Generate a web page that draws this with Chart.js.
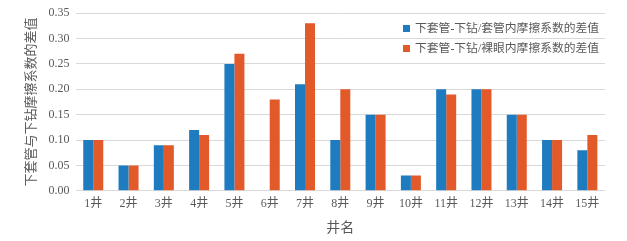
<!DOCTYPE html>
<html><head><meta charset="utf-8">
<script src="https://cdn.jsdelivr.net/npm/chart.js@4.4.1/dist/chart.umd.min.js"></script>
<style>
html,body{margin:0;padding:0;background:#fff;}
#wrap{position:relative;width:627px;height:241px;}
#legend{position:absolute;left:403px;top:18px;font-family:"Liberation Serif","Noto Sans CJK SC",serif;font-size:11.8px;color:#595959;line-height:20px;}
#legend .it{display:flex;align-items:center;white-space:nowrap;}
#legend .sw{width:7px;height:7px;margin-right:5px;display:inline-block;}
</style></head>
<body><div id="wrap"><canvas id="c" width="627" height="241"></canvas>
<div id="legend"></div></div>
<script>
const categories=["1井","2井","3井","4井","5井","6井","7井","8井","9井","10井","11井","12井","13井","14井","15井"];
const seriesNames=["下套管-下钻/套管内摩擦系数的差值","下套管-下钻/裸眼内摩擦系数的差值"];
const casingDiff=[0.10,0.05,0.09,0.12,0.25,0,0.21,0.10,0.15,0.03,0.20,0.20,0.15,0.10,0.08];
const openHoleDiff=[0.10,0.05,0.09,0.11,0.27,0.18,0.33,0.20,0.15,0.03,0.19,0.20,0.15,0.10,0.11];
const yTicks=[0,0.05,0.10,0.15,0.20,0.25,0.30,0.35];
const colors=["#1f7bbf","#e25a2a"];
const font={family:'"Liberation Serif","Noto Sans CJK SC",serif',size:12};
new Chart(document.getElementById('c'),{
 type:'bar',
 data:{labels:categories,datasets:[
  {label:seriesNames[0],data:casingDiff,backgroundColor:colors[0]},
  {label:seriesNames[1],data:openHoleDiff,backgroundColor:colors[1]}]},
 options:{responsive:false,animation:false,
  layout:{padding:{left:20,right:22,top:9,bottom:0}},
  datasets:{bar:{categoryPercentage:0.567,barPercentage:1}},
  plugins:{legend:{display:false},tooltip:{enabled:false}},
  scales:{
   x:{grid:{display:false,drawTicks:false},border:{display:false},
      ticks:{color:'#595959',font:font,padding:6,maxRotation:0},
      title:{display:true,text:'井名',color:'#595959',font:{family:font.family,size:14},padding:{top:3,bottom:4}}},
   y:{min:0,max:0.35,afterBuildTicks:a=>{a.ticks=yTicks.map(v=>({value:v}));},
      grid:{color:'#d9d9d9',drawTicks:false},border:{display:false},
      ticks:{color:'#595959',font:font,padding:6,callback:v=>v.toFixed(2)},
      title:{display:true,text:'下套管与下钻摩擦系数的差值',color:'#595959',font:{family:font.family,size:13},padding:{top:4,bottom:3}}}
  }}
});
const lg=document.getElementById('legend');
seriesNames.forEach((n,i)=>{const d=document.createElement('div');d.className='it';
 d.innerHTML='<span class="sw" style="background:'+colors[i]+'"></span>'+n;lg.appendChild(d);});
</script></body></html>
